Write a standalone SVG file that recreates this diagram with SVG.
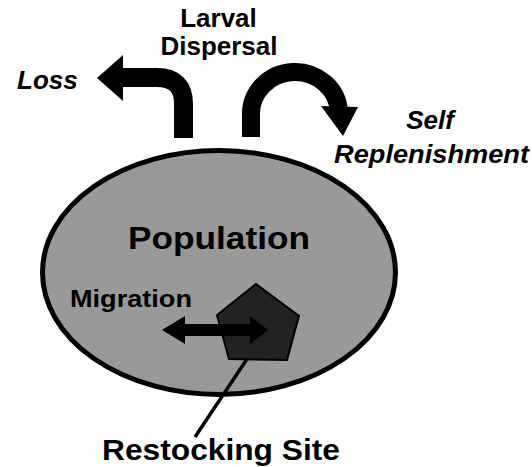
<svg xmlns="http://www.w3.org/2000/svg" width="532" height="467" viewBox="0 0 532 467">
<style>
.t{font-family:"Liberation Sans",Arial,sans-serif;font-weight:bold;fill:#000}
.i{font-style:italic}
.arc{fill:none;stroke:#000}
</style>
<rect width="532" height="467" fill="#fff"/>
<g id="population">
<ellipse cx="219" cy="272.5" rx="176.5" ry="122" fill="#999" stroke="#000" stroke-width="5"/>
<text class="t" x="128" y="249" font-size="32" textLength="182" lengthAdjust="spacingAndGlyphs">Population</text>
</g>
<g id="restocking-site">
<polygon points="256,284 299,316 287,360 229,359 217,315" fill="#222" stroke="#000" stroke-width="2"/>
<text class="t" x="102" y="460" font-size="29" textLength="238" lengthAdjust="spacingAndGlyphs">Restocking Site</text>
</g>
<g id="larval-dispersal">
<text class="t" x="218.5" y="27" font-size="26" text-anchor="middle">Larval</text>
<text class="t" x="219" y="55" font-size="26" text-anchor="middle">Dispersal</text>
</g>
<g id="loss">
<text class="t i" x="17" y="89" font-size="26">Loss</text>
</g>
<g id="self-replenishment">
<text class="t i" x="430" y="129" font-size="26" text-anchor="middle">Self</text>
<text class="t i" x="334" y="163" font-size="26" textLength="195" lengthAdjust="spacingAndGlyphs">Replenishment</text>
</g>
<g id="migration">
<text class="t" x="70" y="307" font-size="24" textLength="122" lengthAdjust="spacingAndGlyphs">Migration</text>
</g>
<g id="connectors">
<path class="arc" stroke-width="19" d="M183.5,138 V104 Q183.5,77.5 157,77.5 H121"/>
<polygon points="97,78 123,55 123,101" fill="#000"/>
<path class="arc" stroke-width="18" d="M251,137 V116 A44,42 0 0 1 339,112"/>
<polygon points="321,106 358,107 343,136" fill="#000"/>
<polygon points="162,330 185,316 185,324 250,324 250,316 268,330 250,344 250,336 185,336 185,344" fill="#000"/>
<line x1="247" y1="359" x2="195" y2="437" stroke="#000" stroke-width="3.5"/>
</g>
</svg>
